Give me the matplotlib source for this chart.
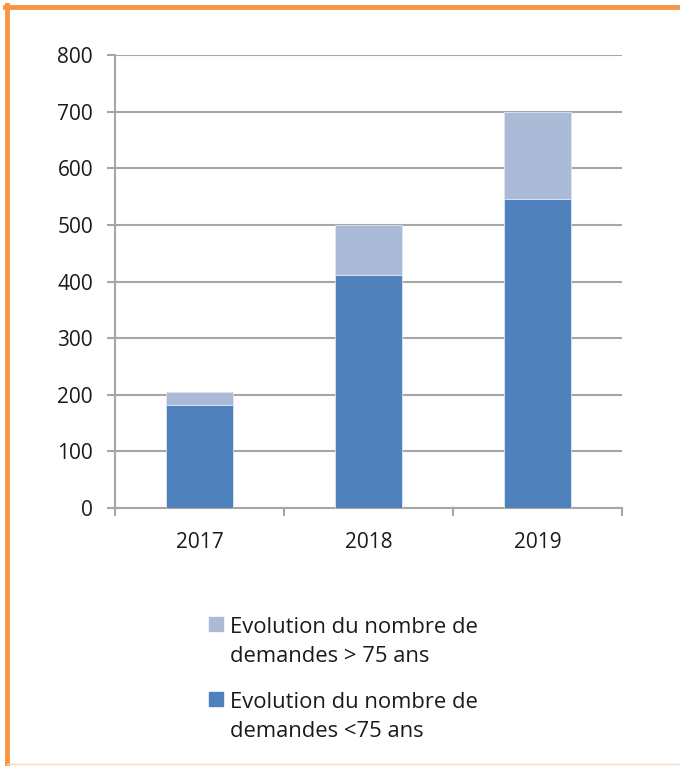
import numpy as np
import matplotlib.pyplot as plt
from matplotlib.lines import Line2D
from matplotlib.patches import Rectangle

plt.rcParams['font.family'] = ['Open Sans', 'DejaVu Sans']

years = ['2017', '2018', '2019']
under_75 = [182, 412, 546]
over_75 = [23, 88, 154]
labels = ['Evolution du nombre de\ndemandes > 75 ans',
          'Evolution du nombre de\ndemandes <75 ans']

dark_blue = '#4f81bd'
light_blue = '#aabad7'
grid_grey = '#a6a6a6'
text_col = '#1a1a1a'

W, H = 680, 766
fig = plt.figure(figsize=(W / 100, H / 100), dpi=100)
ax = fig.add_axes([115 / W, (H - 508) / H, (622 - 115) / W, (508 - 55) / H])

x = np.arange(len(years))
ax.bar(x, under_75, width=0.4, color=dark_blue, edgecolor='#dce6f2', linewidth=0.6, zorder=3)
ax.bar(x, over_75, width=0.4, bottom=under_75, color=light_blue,
       edgecolor='#dce6f2', linewidth=0.6, zorder=3)

ax.set_xlim(-0.5, len(years) - 0.5)
ax.set_ylim(0, 800)
ax.set_yticks(np.arange(0, 801, 100))
ax.yaxis.grid(True, color=grid_grey, linewidth=1.5, zorder=0)
ax.set_axisbelow(True)

ax.set_xticks(x)
ax.set_xticklabels(years)
ax.set_xticks(np.arange(-0.5, len(years), 1), minor=True)
ax.tick_params(axis='x', which='major', length=0, pad=17, labelsize=15, labelcolor=text_col)
ax.tick_params(axis='x', which='minor', length=5.8, width=1.5, color=grid_grey)
ax.tick_params(axis='y', length=5.8, width=1.5, color=grid_grey, pad=10,
               labelsize=15, labelcolor=text_col)

for side in ['top', 'right']:
    ax.spines[side].set_visible(False)
for side in ['left', 'bottom']:
    ax.spines[side].set_color(grid_grey)
    ax.spines[side].set_linewidth(1.5)

# legend below the plot, square aligned with the first text line
legend_colors = [light_blue, dark_blue]
for i, (lab, col) in enumerate(zip(labels, legend_colors)):
    top = 617 + i * 75
    fig.add_artist(Rectangle((209 / W, 1 - (top + 14) / H), 14 / W, 14 / H,
                             color=col, transform=fig.transFigure))
    # baseline of the last line of the label
    fig.text(230 / W, 1 - (top + 45) / H, lab, fontsize=15.8, color=text_col,
             va='baseline', ha='left', linespacing=1.5)

# orange frame around the picture
fig.add_artist(Line2D([7 / W, 7 / W], [0, 1 - 5 / H], color='#f79646', linewidth=3.5,
                      transform=fig.transFigure))
fig.add_artist(Line2D([5 / W, 1], [1 - 7 / H, 1 - 7 / H], color='#f79646', linewidth=3.5,
                      transform=fig.transFigure))
fig.add_artist(Line2D([7 / W, 1], [2 / H, 2 / H], color='#fbd5b5', linewidth=1,
                      transform=fig.transFigure))

fig.savefig('out.png', dpi=100)
